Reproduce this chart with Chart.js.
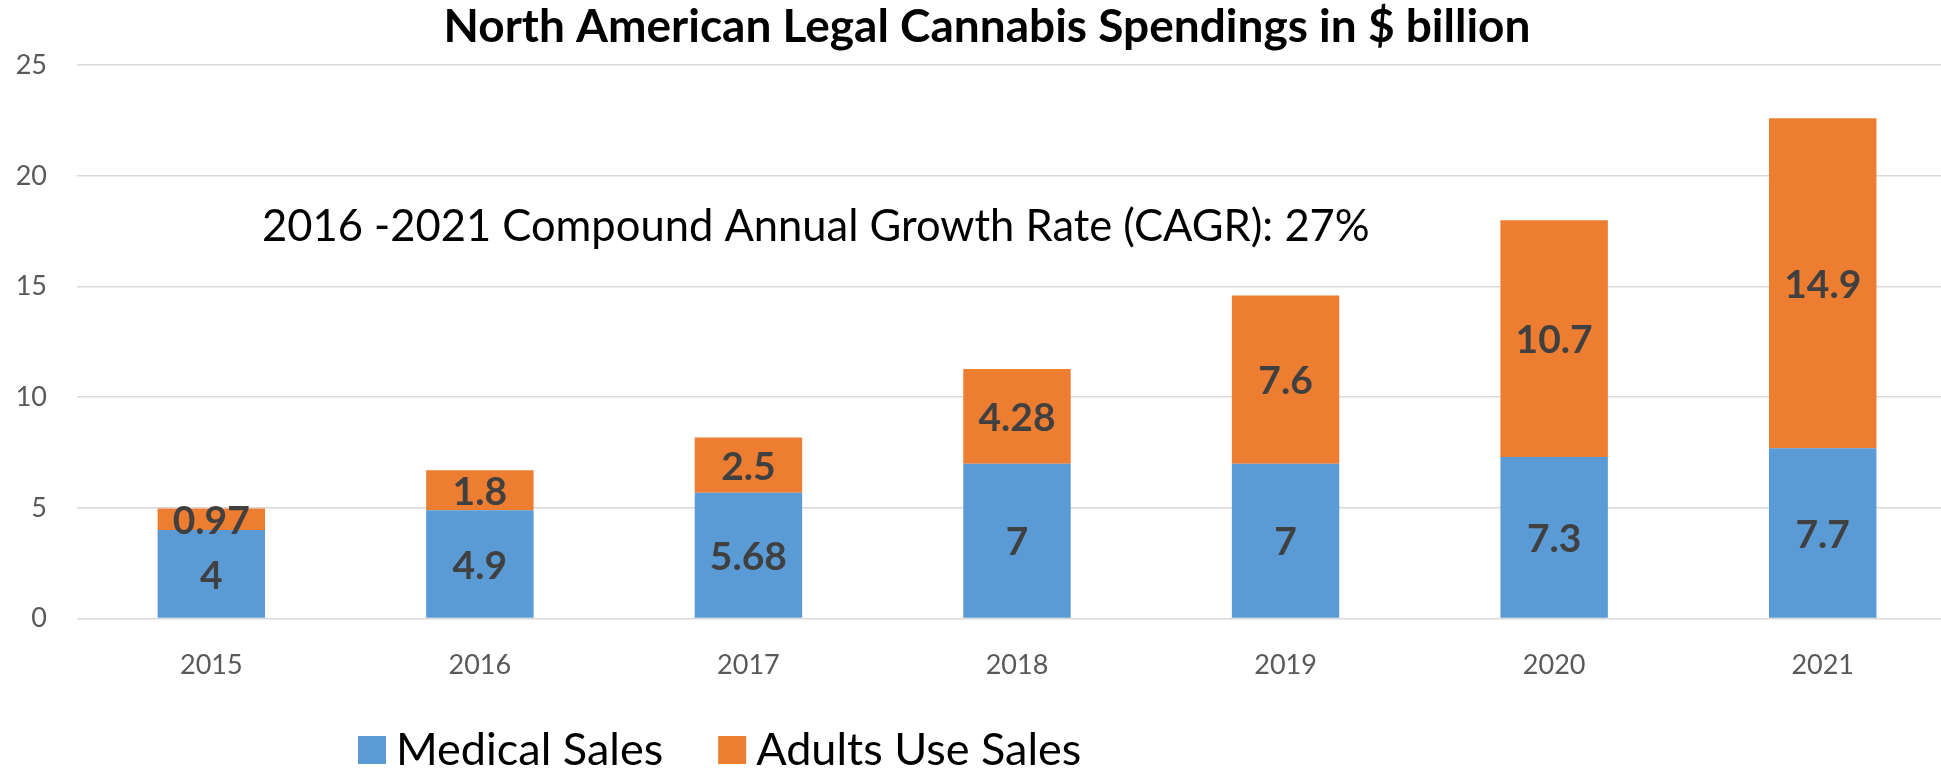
<!DOCTYPE html>
<html lang="en">
<head>
    <meta charset="UTF-8">
    <title>North American Legal Cannabis Spendings</title>
    <script src="https://cdn.jsdelivr.net/npm/chart.js"></script>
    <style>
        body {
            margin: 0;
            background-color: #ffffff;
            overflow: hidden;
        }

        /* the plot runs slightly past the right edge, as in the original crop */
        .chart-container {
            width: 1941px;
            height: 769px;
            overflow: hidden;
        }
    </style>
</head>
<body>
    <div class="chart-container">
        <canvas id="spendingChart" width="1957" height="769"></canvas>
    </div>

    <script>
        const years = ['2015', '2016', '2017', '2018', '2019', '2020', '2021'];
        const medicalSales = [4, 4.9, 5.68, 7, 7, 7.3, 7.7];
        const adultsUseSales = [0.97, 1.8, 2.5, 4.28, 7.6, 10.7, 14.9];
        const yTicks = [0, 5, 10, 15, 20, 25];
        const chartTitle = 'North American Legal Cannabis Spendings in $ billion';
        const cagrNote = '2016 -2021 Compound Annual Growth Rate (CAGR): 27%';

        const fontFamily = 'Lato, "Open Sans", sans-serif';

        // draws value labels, the CAGR note and the legend
        const extrasPlugin = {
            id: 'extras',
            afterDatasetsDraw(chart) {
                const ctx = chart.ctx;
                ctx.save();
                ctx.font = 'bold 39px ' + fontFamily;
                ctx.fillStyle = '#404040';
                ctx.textAlign = 'center';
                ctx.textBaseline = 'middle';
                chart.data.datasets.forEach((ds, i) => {
                    chart.getDatasetMeta(i).data.forEach((bar, j) => {
                        const mid = (bar.y + bar.base) / 2;
                        ctx.fillText(String(ds.data[j]), bar.x, mid + 2);
                    });
                });
                ctx.restore();
            },
            afterDraw(chart) {
                const ctx = chart.ctx;
                const area = chart.chartArea;
                const yScale = chart.scales.y;
                ctx.save();

                // CAGR note
                ctx.font = '43.5px ' + fontFamily;
                ctx.fillStyle = '#000000';
                ctx.textAlign = 'left';
                ctx.textBaseline = 'middle';
                ctx.fillText(cagrNote, area.left + 185, yScale.getPixelForValue(17.7));

                // legend
                ctx.font = '45px ' + fontFamily;
                let x = 358;
                const y = 750;
                chart.data.datasets.forEach(ds => {
                    ctx.fillStyle = ds.backgroundColor;
                    ctx.fillRect(x, y - 14, 28, 28);
                    x += 38;
                    ctx.fillStyle = '#000000';
                    ctx.fillText(ds.label, x, y);
                    x += ctx.measureText(ds.label).width + 55;
                });
                ctx.restore();
            }
        };

        const ctx = document.getElementById('spendingChart').getContext('2d');
        new Chart(ctx, {
            type: 'bar',
            data: {
                labels: years,
                datasets: [
                    {
                        label: 'Medical Sales',
                        data: medicalSales,
                        backgroundColor: '#5B9BD5',
                        barPercentage: 0.4,
                        categoryPercentage: 1
                    },
                    {
                        label: 'Adults Use Sales',
                        data: adultsUseSales,
                        backgroundColor: '#ED7D31',
                        barPercentage: 0.4,
                        categoryPercentage: 1
                    }
                ]
            },
            options: {
                responsive: false,
                animation: false,
                layout: {
                    padding: { left: 17, right: 0, top: 0, bottom: 58 }
                },
                plugins: {
                    title: {
                        display: true,
                        text: chartTitle,
                        color: '#000000',
                        font: { family: fontFamily, size: 46, weight: 'bold' },
                        padding: { top: 0, bottom: 10 }
                    },
                    legend: { display: false },
                    tooltip: { enabled: false }
                },
                scales: {
                    x: {
                        stacked: true,
                        grid: { display: false, drawTicks: false },
                        border: { display: false },
                        ticks: {
                            color: '#595959',
                            padding: 30,
                            font: { family: fontFamily, size: 27 }
                        }
                    },
                    y: {
                        stacked: true,
                        min: yTicks[0],
                        max: yTicks[yTicks.length - 1],
                        afterBuildTicks(scale) {
                            scale.ticks = yTicks.map(v => ({ value: v }));
                        },
                        afterFit(scale) {
                            scale.width = 60;
                        },
                        grid: { color: '#D9D9D9', lineWidth: 1.5, drawTicks: false },
                        border: { display: false },
                        ticks: {
                            color: '#595959',
                            padding: 30,
                            font: { family: fontFamily, size: 27 }
                        }
                    }
                }
            },
            plugins: [extrasPlugin]
        });
    </script>
</body>
</html>
